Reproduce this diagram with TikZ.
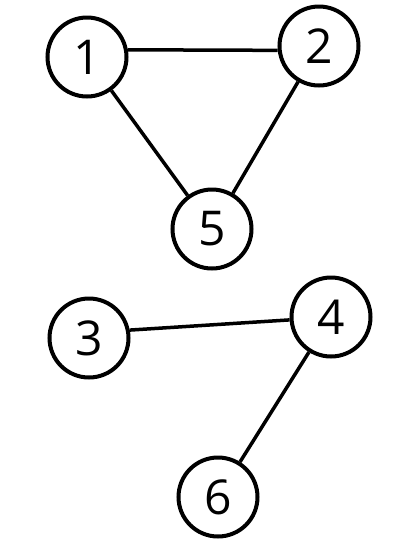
\documentclass[tikz,border=0pt]{standalone}
\usepackage{fontspec}
\setmainfont{Open Sans}
\begin{document}
\begin{tikzpicture}[x=1pt,y=-1pt,
  vertex/.style={circle,draw,line width=4pt,minimum size=79pt,inner sep=0pt,fill=white,font=\fontsize{48}{48}\selectfont},
  edge/.style={line width=3.5pt}]
\useasboundingbox (0,0) rectangle (400,542);
\node[vertex] (n1) at (87,57) {1};
\node[vertex] (n2) at (319,46) {2};
\node[vertex] (n5) at (212,229) {5};
\node[vertex] (n3) at (89,338) {3};
\node[vertex] (n4) at (331,317) {4};
\node[vertex] (n6) at (218,497) {6};
\draw[edge] (n1.10) -- (n2.186);
\draw[edge] (n1) -- (n5);
\draw[edge] (n2) -- (n5);
\draw[edge] (n3.11) -- (n4.184);
\draw[edge] (n4) -- (n6);
\end{tikzpicture}
\end{document}
